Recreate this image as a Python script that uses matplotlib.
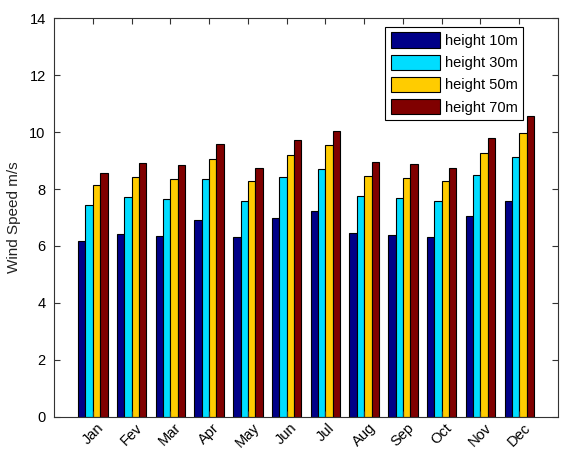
import numpy as np
import matplotlib
matplotlib.use("Agg")
import matplotlib.pyplot as plt

months = ["Jan", "Fev", "Mar", "Apr", "May", "Jun", "Jul", "Aug", "Sep", "Oct", "Nov", "Dec"]
h10 = [6.16, 6.42, 6.34, 6.91, 6.31, 6.99, 7.24, 6.46, 6.38, 6.31, 7.04, 7.58]
h30 = [7.44, 7.72, 7.65, 8.34, 7.57, 8.42, 8.71, 7.77, 7.69, 7.57, 8.50, 9.12]
h50 = [8.14, 8.42, 8.34, 9.07, 8.27, 9.20, 9.53, 8.47, 8.39, 8.27, 9.25, 9.97]
h70 = [8.58, 8.91, 8.83, 9.60, 8.75, 9.73, 10.05, 8.96, 8.88, 8.75, 9.81, 10.56]
labels = ["height 10m", "height 30m", "height 50m", "height 70m"]
colors = ["#000088", "#00DDFF", "#FFCC00", "#800000"]

plt.rcParams["font.family"] = ["Liberation Sans", "DejaVu Sans"]

fig = plt.figure(figsize=(5.61, 4.54), dpi=100)
ax = fig.add_axes([0.0963, 0.0822, 0.8984, 0.8775])

x = np.arange(1, len(months) + 1)
w = 0.19
for i, (vals, lab, col) in enumerate(zip([h10, h30, h50, h70], labels, colors)):
    ax.bar(x + (i - 1.5) * w, vals, width=w, color=col, edgecolor="black",
           linewidth=0.8, label=lab)

ax.set_xlim(0, 13)
ax.set_ylim(0, 14)
ax.set_yticks(range(0, 15, 2))
ax.set_xticks(x)
ax.set_xticklabels(months, rotation=45, ha="center", va="top")
ax.tick_params(direction="in", top=True, right=True, length=4, labelsize=10.5,
               color="#333333")
ax.tick_params(axis="y", pad=6)
ax.tick_params(axis="x", pad=3)
for s in ax.spines.values():
    s.set_color("#333333")
ax.set_ylabel("Wind Speed m/s", fontsize=11, labelpad=6, color="#222222")

leg = ax.legend(loc="upper right", bbox_to_anchor=(0.94, 0.99), fontsize=10.5,
                fancybox=False, framealpha=1, edgecolor="black",
                handlelength=3.4, handleheight=1.25, labelspacing=0.45,
                handletextpad=0.3, borderpad=0.4, borderaxespad=0.3)
leg.get_frame().set_linewidth(0.8)

fig.savefig("out.png", dpi=100)
